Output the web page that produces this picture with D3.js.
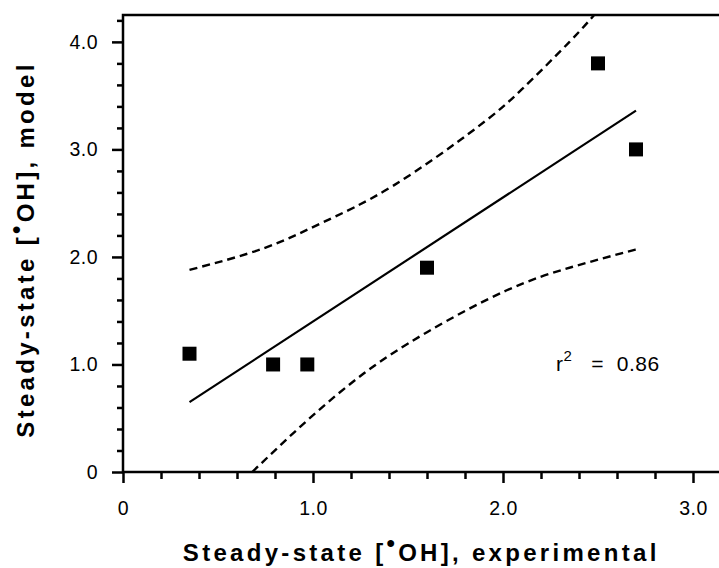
<!DOCTYPE html>
<html>
<head>
<meta charset="utf-8">
<script src="https://cdn.jsdelivr.net/npm/d3@7"></script>
<style>
  body { margin: 0; background: #fff; }
  svg { display: block; font-family: "Liberation Sans", Arial, sans-serif; }
</style>
</head>
<body>
<div id="chart"></div>
<script>
// measured points
const expOH = [0.35, 0.79, 0.97, 1.6, 2.5, 2.7];
const modelOH = [1.1, 1.0, 1.0, 1.9, 3.8, 3.0];

// regression line (end points)
const fitX = [0.35, 2.7];
const fitY = [0.65, 3.36];

// 95% bands
const upperX = [0.35, 0.74, 1.05, 1.42, 1.86, 2.1, 2.35, 2.48];
const upperY = [1.88, 2.08, 2.32, 2.66, 3.2, 3.56, 4.0, 4.25];
const lowerX = [0.68, 0.97, 1.27, 1.6, 2.02, 2.37, 2.7];
const lowerY = [0.0, 0.48, 0.92, 1.3, 1.69, 1.91, 2.07];

const xTicks = [0, 1, 2, 3];
const xTickLabels = ['0', '1.0', '2.0', '3.0'];
const yTicks = [0, 1, 2, 3, 4];
const yTickLabels = ['0', '1.0', '2.0', '3.0', '4.0'];
const rSquared = '0.86';

function drawChart() {
    const width = 719;
    const height = 568;
    const left = 123, top = 15, bottom = 472;

    const xScale = d3.scaleLinear().domain([0, 3.15]).range([left, left + 3.15 * 190]);
    const yScale = d3.scaleLinear().domain([0, 4.25]).range([bottom, top]);

    const svg = d3.select('#chart')
        .append('svg')
            .attr('width', width)
            .attr('height', height);

    svg.append('clipPath').attr('id', 'plot-clip')
        .append('rect')
            .attr('x', left).attr('y', top)
            .attr('width', xScale.range()[1] - left)
            .attr('height', bottom - top);

    // minor ticks every 0.2
    const minorX = d3.range(0, 3.15, 0.2).filter(v => Math.abs(v - Math.round(v)) > 0.01);
    const minorY = d3.range(0, 4.25, 0.2).filter(v => Math.abs(v - Math.round(v)) > 0.01);

    const yMinor = svg.append('g')
        .attr('transform', `translate(${left},0)`)
        .call(d3.axisLeft(yScale).tickValues(minorY).tickSize(6).tickFormat(''));
    const yMajor = svg.append('g')
        .attr('transform', `translate(${left},0)`)
        .call(d3.axisLeft(yScale).tickValues(yTicks).tickSize(11).tickPadding(14)
            .tickFormat((d, i) => yTickLabels[i]));

    const xMinor = svg.append('g')
        .attr('transform', `translate(0,${bottom})`)
        .call(d3.axisBottom(xScale).tickValues(minorX).tickSize(7).tickFormat(''));
    const xMajor = svg.append('g')
        .attr('transform', `translate(0,${bottom})`)
        .call(d3.axisBottom(xScale).tickValues(xTicks).tickSize(11).tickPadding(18)
            .tickFormat((d, i) => xTickLabels[i]));

    [yMinor, yMajor, xMinor, xMajor].forEach(g => {
        g.select('.domain').remove();
        g.selectAll('line').attr('stroke', '#000').attr('stroke-width', 2.5);
        g.selectAll('text')
            .attr('fill', '#000')
            .style('font-size', '19.5px')
            .style('letter-spacing', '0.5px');
    });

    // frame: left, top, bottom (right edge falls off the page)
    const xr = xScale.range()[1];
    svg.append('path')
        .attr('d', `M${xr},${top}H${left}V${bottom}H${xr}`)
        .attr('fill', 'none')
        .attr('stroke', '#000')
        .attr('stroke-width', 2.5);

    const plot = svg.append('g').attr('clip-path', 'url(#plot-clip)');

    const line = d3.line()
        .x(d => xScale(d[0]))
        .y(d => yScale(d[1]));
    const curve = d3.line()
        .x(d => xScale(d[0]))
        .y(d => yScale(d[1]))
        .curve(d3.curveNatural);

    plot.append('path')
        .datum(fitX.map((v, i) => [v, fitY[i]]))
        .attr('d', line)
        .attr('fill', 'none')
        .attr('stroke', '#000')
        .attr('stroke-width', 2.2);

    [[upperX, upperY], [lowerX, lowerY]].forEach(([xs, ys]) => {
        plot.append('path')
            .datum(xs.map((v, i) => [v, ys[i]]))
            .attr('d', curve)
            .attr('fill', 'none')
            .attr('stroke', '#000')
            .attr('stroke-width', 2.4)
            .attr('stroke-dasharray', '8,5');
    });

    const size = 14;
    svg.append('g').selectAll('rect')
        .data(expOH.map((v, i) => [v, modelOH[i]]))
        .enter()
            .append('rect')
                .attr('x', d => xScale(d[0]) - size / 2)
                .attr('y', d => yScale(d[1]) - size / 2)
                .attr('width', size)
                .attr('height', size)
                .attr('fill', '#000');

    // r^2 annotation
    const r2 = svg.append('text')
        .attr('x', 556)
        .attr('y', 371)
        .style('font-size', '21px')
        .style('letter-spacing', '0.5px')
        .attr('fill', '#000');
    r2.append('tspan').text('r');
    r2.append('tspan').attr('dy', -10).style('font-size', '15px').text('2');
    r2.append('tspan').attr('dy', 10).attr('xml:space', 'preserve').text('   =  ' + rSquared);

    // axis titles
    function title(sel, before, after) {
        sel.style('font-size', '24px')
            .style('font-weight', 'bold')
            .style('letter-spacing', '3.3px')
            .attr('text-anchor', 'middle')
            .attr('fill', '#000');
        sel.append('tspan').text(before);
        sel.append('tspan').attr('dy', -10).style('font-size', '24px').text('\u2022');
        sel.append('tspan').attr('dy', 10).text(after);
    }

    svg.append('text')
        .attr('x', (left + xr) / 2 - 1)
        .attr('y', 561)
        .call(title, 'Steady-state [', 'OH], experimental');

    svg.append('text')
        .attr('transform', `translate(34,${(top + bottom) / 2 + 6}) rotate(-90)`)
        .call(title, 'Steady-state [', 'OH], model');
}

drawChart();
</script>
</body>
</html>
